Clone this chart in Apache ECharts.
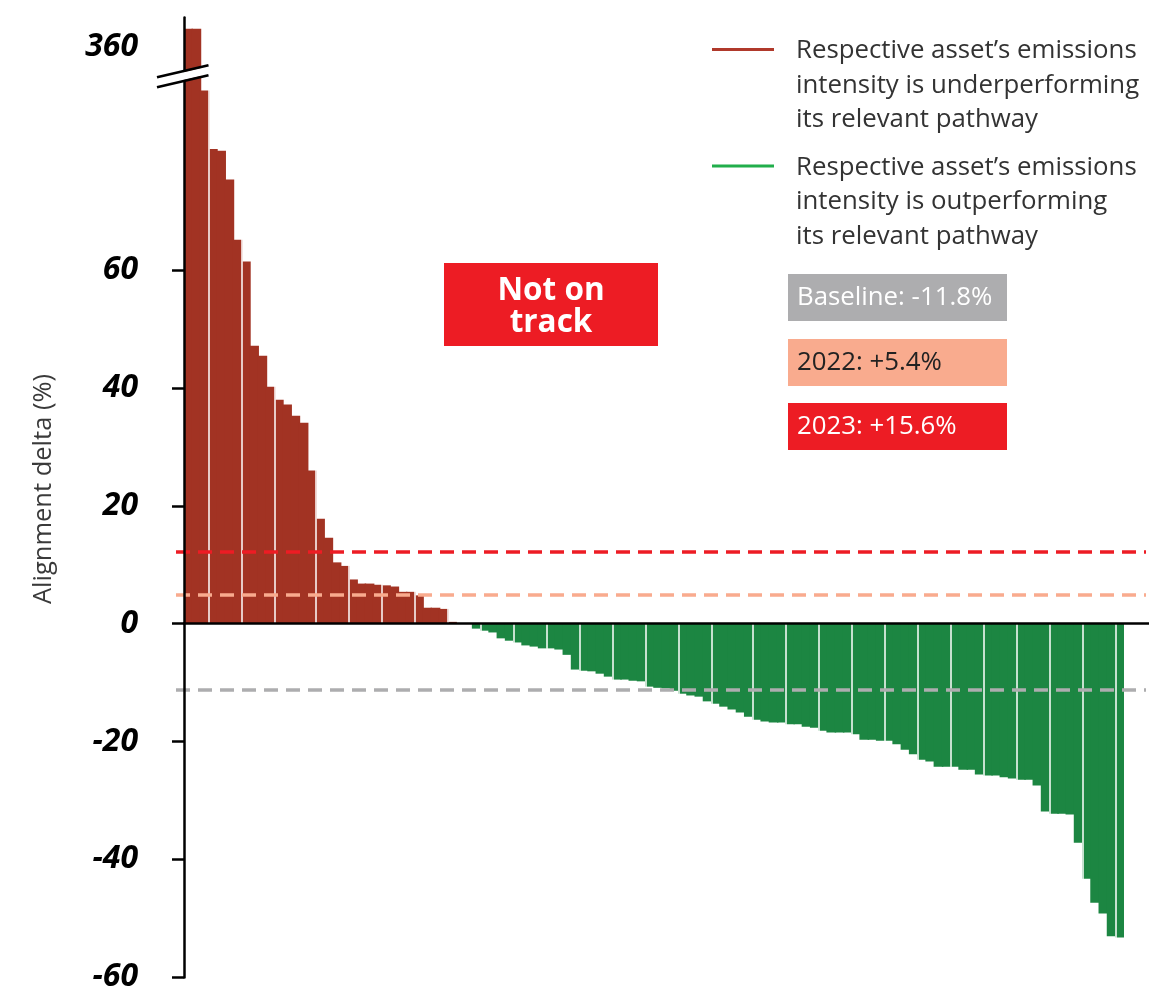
<!DOCTYPE html>
<html>
<head>
<meta charset="utf-8">
<script src="https://cdn.jsdelivr.net/npm/echarts@6/dist/echarts.min.js"></script>
<style>
html,body{margin:0;padding:0;background:#fff;}
#chart{width:1149px;height:996px;}
</style>
</head>
<body>
<div id="chart"></div>
<script>
// ---------------- data ----------------
// Assets whose emissions intensity is above their pathway (alignment delta > 0)
const underperforming = [363, 363, 90.5, 80.6, 80.3, 75.4, 65.2, 61.5, 47.2, 45.5,
  40.2, 38.0, 37.2, 35.3, 34.1, 26.0, 17.8, 14.6, 10.4, 9.8,
  7.5, 6.8, 6.8, 6.6, 6.5, 6.3, 5.4, 5.4, 4.8, 2.7,
  2.7, 2.5, 0.3];
// Assets sitting on their pathway
const onPathway = [0, 0];
// Assets whose emissions intensity is below their pathway (alignment delta < 0)
const outperforming = [-0.85, -1.2, -1.5, -2.5, -2.9, -3.2, -3.7, -3.9, -4.2, -4.2,
  -4.4, -5.3, -7.8, -8.0, -8.1, -8.5, -9.0, -9.5, -9.5, -9.7,
  -9.8, -10.7, -10.9, -11.0, -11.4, -11.9, -12.2, -12.4, -13.2, -13.6,
  -14.1, -14.6, -15.1, -15.8, -16.3, -16.6, -16.8, -16.8, -17.1, -17.1,
  -17.5, -17.7, -18.2, -18.5, -18.5, -18.5, -18.8, -19.7, -19.7, -19.9,
  -19.9, -20.5, -21.4, -22.2, -23.1, -23.4, -24.3, -24.3, -24.3, -24.8,
  -24.8, -25.6, -25.8, -25.8, -26.1, -26.3, -26.5, -26.5, -27.5, -31.9,
  -32.3, -32.3, -32.4, -37.2, -43.3, -47.4, -49.2, -53.1, -53.3];

const benchmarkNames  = ['Baseline', '2022', '2023'];
const benchmarkLabels = ['Baseline: -11.8%', '2022: +5.4%', '2023: +15.6%'];
const benchmarkLevels = [-11.25, 4.9, 12.2];   // where the dashed lines sit

const yTickValues  = [-60, -40, -20, 0, 20, 40, 60];
const yLabelValues = [-60, -40, -20, 0, 20, 40, 60, 360];
const yAxisBreak   = { start: 93, end: 355 };

const legendTexts = [
  'Respective asset\u2019s emissions\nintensity is underperforming\nits relevant pathway',
  'Respective asset\u2019s emissions\nintensity is outperforming\nits relevant pathway'
];
const statusText = 'Not on\ntrack';

// ---------------- styling ----------------
const RED_BAR = '#A23323', GREEN_BAR = '#1C8642';
const LEGEND_COLORS = ['#B0392B', '#21AE4B'];
const BENCH_COLORS = ['#ADADAF', '#F9AB8E', '#ED1C24'];
const BOX_TEXT = ['#ffffff', '#222222', '#ffffff'];
const FONT = '"Open Sans", "Noto Sans", sans-serif';
// boundaries (after n bars) where the original shows thin white seams
const seams = [3, 7, 11, 16, 20, 24, 28, 32, 36, 40, 44, 48, 52, 56, 60, 64, 69, 73, 77, 81, 85, 89, 93, 97, 101, 105, 109, 113];

const alignmentDelta = underperforming.concat(onPathway, outperforming);
const categories = alignmentDelta.map((_, i) => 'Asset ' + (i + 1));
const barData = alignmentDelta.map(v => ({ value: v, itemStyle: { color: v >= 0 ? RED_BAR : GREEN_BAR } }));

const chart = echarts.init(document.getElementById('chart'), null, { renderer: 'canvas' });

const option = {
  animation: false,
  backgroundColor: '#ffffff',
  grid: { left: 184, right: 25, top: 17, bottom: 19, outerBoundsMode: 'none' },
  xAxis: [
    { type: 'category', data: categories, axisLine: { show: false }, axisTick: { show: false },
      axisLabel: { show: false }, splitLine: { show: false } },
    { type: 'value', min: 0, max: categories.length, show: false }
  ],
  yAxis: {
    type: 'value', min: -60, max: 365, z: 10,
    breaks: [{ start: yAxisBreak.start, end: yAxisBreak.end, gap: 0 }],
    breakArea: { show: false },
    axisLine: { show: true, lineStyle: { color: '#000', width: 2.5 } },
    axisTick: { show: true, length: 12, lineStyle: { color: '#000', width: 2.5 }, customValues: yTickValues },
    axisLabel: { customValues: yLabelValues, margin: 46, color: '#000', fontSize: 32,
      fontStyle: 'italic', fontWeight: 'bold', fontFamily: FONT },
    splitLine: { show: false }
  },
  series: [
    {
      type: 'bar', name: 'Alignment delta', data: barData,
      barWidth: '118%', z: 2, large: false
    },
    {
      type: 'line', name: 'seams', xAxisIndex: 1, data: [],
      markLine: { z: 3, silent: true, symbol: 'none', label: { show: false },
        lineStyle: { color: '#ffffff', width: 1.5, type: 'solid' },
        data: seams.map(k => ({ xAxis: k })) }
    },
    {
      type: 'line', name: 'benchmarks', xAxisIndex: 1, data: [],
      markLine: { z: 6, silent: true, symbol: 'none', label: { show: false },
        data: benchmarkLevels.map((v, i) => [
          { name: benchmarkNames[i], yAxis: v, x: 176, lineStyle: { color: BENCH_COLORS[i], width: 3.5, type: [14, 8] } },
          { yAxis: v, x: 1146 }
        ]).concat([[
          { name: 'zero', yAxis: 0, x: 183, lineStyle: { color: '#000', width: 2.5, type: 'solid' } },
          { yAxis: 0, x: 1149 }
        ]]) }
    }
  ]
};
chart.setOption(option);

// ---------------- annotations ----------------
const ax = chart.convertToPixel({ xAxisIndex: 1 }, 0);
const ay = chart.convertToPixel({ yAxisIndex: 0 }, yAxisBreak.start);
const slope = -0.232, half = 5, x0 = ax - 27, x1 = ax + 24.5;
const yUp = x => ay - half + slope * (x - ax);
const yLo = x => ay + half + slope * (x - ax);

const graphic = [
  { type: 'polygon', z: 100, shape: { points: [[x0, yUp(x0) + 1], [x1, yUp(x1) + 1], [x1, yLo(x1) - 1], [x0, yLo(x0) - 1]] },
    style: { fill: '#fff' } },
  { type: 'line', z: 101, shape: { x1: x0, y1: yUp(x0), x2: x1, y2: yUp(x1) }, style: { stroke: '#000', lineWidth: 2.5 } },
  { type: 'line', z: 101, shape: { x1: x0, y1: yLo(x0), x2: x1, y2: yLo(x1) }, style: { stroke: '#000', lineWidth: 2.5 } },
  // y axis title
  { type: 'text', z: 100, x: 44, y: 489, rotation: Math.PI / 2,
    style: { text: 'Alignment delta (%)', font: '25.5px ' + FONT, fill: '#3a3a3a', align: 'center', verticalAlign: 'middle' } },
  // legend
  { type: 'line', z: 100, shape: { x1: 712, y1: 49.5, x2: 774, y2: 49.5 }, style: { stroke: LEGEND_COLORS[0], lineWidth: 3 } },
  { type: 'text', z: 100, x: 796, y: 33.5,
    style: { text: legendTexts[0], font: '25.8px ' + FONT, fill: '#333', lineHeight: 34.5, verticalAlign: 'top' } },
  { type: 'line', z: 100, shape: { x1: 712, y1: 166, x2: 774, y2: 166 }, style: { stroke: LEGEND_COLORS[1], lineWidth: 3 } },
  { type: 'text', z: 100, x: 796, y: 150,
    style: { text: legendTexts[1], font: '25.8px ' + FONT, fill: '#333', lineHeight: 34.5, verticalAlign: 'top' } },
  // status box
  { type: 'rect', z: 100, shape: { x: 444, y: 263, width: 214, height: 83 }, style: { fill: '#ED1C24' } },
  { type: 'text', z: 101, x: 551, y: 307,
    style: { text: statusText, font: 'bold 31.5px ' + FONT, fill: '#fff', lineHeight: 32, align: 'center', verticalAlign: 'middle' } }
];
const boxTops = [274, 339, 403];
benchmarkLabels.forEach((t, i) => {
  graphic.push({ type: 'rect', z: 100, shape: { x: 788, y: boxTops[i], width: 219, height: 47 }, style: { fill: BENCH_COLORS[i] } });
  graphic.push({ type: 'text', z: 101, x: 797, y: boxTops[i] + 24,
    style: { text: t, font: '25.8px ' + FONT, fill: BOX_TEXT[i], verticalAlign: 'middle' } });
});
chart.setOption({ graphic: graphic });
</script>
</body>
</html>
